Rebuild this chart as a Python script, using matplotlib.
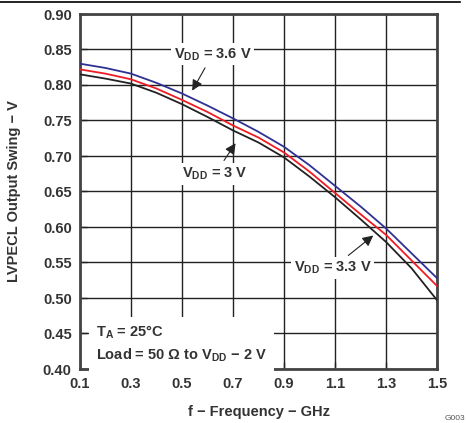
import numpy as np
import matplotlib
matplotlib.use("Agg")
import matplotlib.pyplot as plt
from matplotlib.lines import Line2D

plt.rcParams['font.family'] = ['Liberation Sans', 'DejaVu Sans']
plt.rcParams['font.weight'] = 'bold'
plt.rcParams['mathtext.fontset'] = 'custom'
plt.rcParams['mathtext.bf'] = 'Liberation Sans:bold'
plt.rcParams['mathtext.rm'] = 'Liberation Sans:bold'
plt.rcParams['mathtext.default'] = 'bf'

# frequency in GHz, output swing in V
freq = [0.1, 0.2, 0.3, 0.4, 0.5, 0.6, 0.7, 0.8, 0.9, 1.0, 1.1, 1.2, 1.3, 1.4, 1.5]
vdd_36 = [0.830, 0.824, 0.816, 0.803, 0.788, 0.771, 0.753, 0.734, 0.713, 0.687,
          0.658, 0.629, 0.598, 0.563, 0.528]
vdd_30 = [0.822, 0.816, 0.808, 0.795, 0.779, 0.762, 0.743, 0.726, 0.705, 0.678,
          0.648, 0.618, 0.589, 0.553, 0.517]
vdd_33 = [0.815, 0.809, 0.802, 0.789, 0.773, 0.755, 0.736, 0.719, 0.698, 0.671,
          0.642, 0.611, 0.579, 0.542, 0.497]

xticks = [0.1, 0.3, 0.5, 0.7, 0.9, 1.1, 1.3, 1.5]
yticks = [0.40, 0.45, 0.50, 0.55, 0.60, 0.65, 0.70, 0.75, 0.80, 0.85, 0.90]

fig = plt.figure(figsize=(4.66, 4.23), dpi=100)
ax = fig.add_axes([80/466, 1 - 369/423, 357/466, 355/423])

ax.plot(freq, vdd_33, color='#222222', lw=1.3, zorder=3)
ax.plot(freq, vdd_30, color='#ee1c24', lw=1.3, zorder=3)
ax.plot(freq, vdd_36, color='#2e3192', lw=1.3, zorder=3)

ax.set_xlim(0.1, 1.5)
ax.set_ylim(0.40, 0.90)
ax.set_xticks(xticks)
ax.set_yticks(yticks)
ax.set_xticklabels(['%.1f' % v for v in xticks])
ax.set_yticklabels(['%.2f' % v for v in yticks])
ax.tick_params(direction='in', length=5, width=1, colors='#222222', labelsize=10.5,
               labelcolor='#333333', pad=6)
ax.grid(True, color='#222222', lw=1)
for s in ax.spines.values():
    s.set_linewidth(2)
    s.set_color('#444444')

ax.set_xlabel('f \u2212 Frequency \u2212 GHz', fontsize=10.5, fontweight='bold',
              color='#333333', labelpad=10)
ax.set_ylabel('LVPECL Output Swing \u2212 V', fontsize=10.5, fontweight='bold',
              color='#333333', labelpad=16)

box = dict(facecolor='white', edgecolor='none', pad=2)
arrow = dict(arrowstyle='-|>', color='#222222', lw=0.8, mutation_scale=16, shrinkA=2, shrinkB=0)
ax.annotate(r'V$_{DD}$ = 3.6 V', xy=(0.54, 0.792), xytext=(0.62, 0.843),
            ha='center', va='center', fontsize=10.5, color='#333333', bbox=box,
            arrowprops=arrow, zorder=5)
ax.annotate(r'V$_{DD}$ = 3 V', xy=(0.71, 0.718), xytext=(0.63, 0.675),
            ha='center', va='center', fontsize=10.5, color='#333333', bbox=box,
            arrowprops=arrow, zorder=5)
ax.annotate(r'V$_{DD}$ = 3.3 V', xy=(1.25, 0.588), xytext=(1.09, 0.542),
            ha='center', va='center', fontsize=10.5, color='#333333', bbox=box,
            arrowprops=arrow, zorder=5)
ax.text(0.163, 0.435, r'T$_A$ = 25$\degree$C' + '\n' + r'Load = 50 $\Omega$ to V$_{DD}$ $-$ 2 V',
        ha='left', va='center', fontsize=10.5, color='#333333', linespacing=1.45,
        bbox=dict(facecolor='white', edgecolor='none', pad=5), zorder=5)

fig.add_artist(Line2D([0, 460/466], [1 - 2/423, 1 - 2/423], color='black', lw=1.2))
fig.text(455/466, 1 - 418/423, 'G003', fontsize=6, fontweight='normal', color='#555555',
         ha='center', va='center')

fig.savefig('out.png', dpi=100)
